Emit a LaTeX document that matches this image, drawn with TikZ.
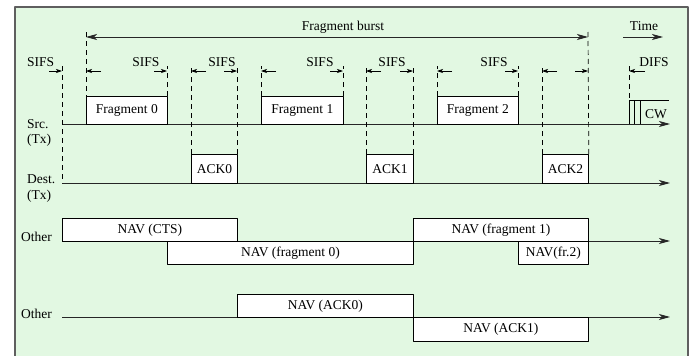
\documentclass[tikz,border=0pt]{standalone}
\usepackage{fontspec}
\setmainfont{Liberation Serif}
\usetikzlibrary{arrows.meta, positioning, calc}

\definecolor{bgmint}{RGB}{226,248,226}
\definecolor{framegray}{RGB}{95,95,95}

\begin{document}
\begin{tikzpicture}[x=1pt, y=-1pt, >={Stealth[length=11pt,width=6pt,inset=3pt]}, line join=round,
	font=\fontsize{13.5}{16}\selectfont]
	
	%======================
	% PARAMETERS (edit here)
	%======================
	\def\ySrc{124}     % source time line
	\def\yDst{183}     % destination time line
	\def\yOa{241}      % first other station
	\def\yOb{317}      % second other station
	\def\yTick{71}     % small SIFS arrows
	\def\yTop{66}      % upper end of guides
	\def\xStart{62}
	\def\xEnd{670}
	
	%======================
	% STYLES
	%======================
	\tikzset{
		timeline/.style={line width=0.8pt, black!85},
		slot/.style={draw, line width=0.8pt, fill=white, inner sep=0pt, anchor=north west},
		guide/.style={line width=0.7pt, dash pattern=on 5pt off 4pt},
		tick/.style={line width=0.7pt, -{Stealth[length=6pt,width=4pt,inset=1.5pt]}},
		lbl/.style={inner sep=0pt}
	}
	
	\useasboundingbox (0,0) rectangle (699,356);
	\draw[framegray, line width=1.2pt, fill=bgmint] (15,7) rectangle (688,364);
	
	%======================
	% TIME LINES
	%======================
	\coordinate (src0) at (\xStart,\ySrc);  \coordinate (src1) at (\xEnd,\ySrc);
	\coordinate (dst0) at (\xStart,\yDst);  \coordinate (dst1) at (\xEnd,\yDst);
	\coordinate (oa0) at (\xStart,\yOa);    \coordinate (oa1) at (\xEnd,\yOa);
	\coordinate (ob0) at (\xStart,\yOb);    \coordinate (ob1) at (\xEnd,\yOb);
	\draw[timeline,->] (src0) -- (src1);
	\draw[timeline,->] (dst0) -- (dst1);
	\draw[timeline,->] (oa0) -- (oa1);
	\draw[timeline,->] (ob0) -- (ob1);
	
	% row labels
	\node[lbl, anchor=base west] (sifsL) at (27,66) {SIFS};
	\node[lbl, anchor=base west] (srcL) at (27,128) {Src.};
	\node[lbl, anchor=base west] (srcT) at (27,143) {(Tx)};
	\node[lbl, anchor=base west] (dstL) at (27,183) {Dest.};
	\node[lbl, anchor=base west] (dstT) at (27,199) {(Tx)};
	\node[lbl, anchor=base west] (otherA) at (21,241) {Other};
	\node[lbl, anchor=base west] (otherB) at (21,318) {Other};
	
	%======================
	% FRAMES ON THE AIR
	%======================
	\node[slot, minimum width=81pt, minimum height=28pt] (frag0) at (86,96) {Fragment 0};
	\node[slot, minimum width=82pt, minimum height=28pt] (frag1) at (261,96) {Fragment 1};
	\node[slot, minimum width=81pt, minimum height=28pt] (frag2) at (437,96) {Fragment 2};
	
	\node[slot, minimum width=46pt, minimum height=29pt] (ack0) at (191,154) {ACK0};
	\node[slot, minimum width=47pt, minimum height=29pt] (ack1) at (366,154) {ACK1};
	\node[slot, minimum width=46pt, minimum height=29pt] (ack2) at (542,154) {ACK2};
	
	% NAV settings of the other stations
	\node[slot, minimum width=175pt, minimum height=23pt] (navcts) at (62,218) {NAV (CTS)};
	\node[slot, minimum width=246pt, minimum height=23pt] (navf0) at (167,241) {NAV (fragment 0)};
	\node[slot, minimum width=175pt, minimum height=23pt] (navf1) at (413,218) {NAV (fragment 1)};
	\node[slot, minimum width=70pt, minimum height=23pt] (navf2) at (518,241) {NAV(fr.2)};
	\node[slot, minimum width=176pt, minimum height=23pt] (navack0) at (237,294) {NAV (ACK0)};
	\node[slot, minimum width=175pt, minimum height=24pt] (navack1) at (413,317) {NAV (ACK1)};
	
	% contention window
	\draw[line width=0.7pt] (629,\ySrc) -- (629,100) -- (669,100);
	\draw[line width=0.7pt] (634,\ySrc) -- (634,100);
	\draw[line width=0.7pt] (640,\ySrc) -- (640,100);
	\node[lbl, anchor=base west] (cw) at (645,118) {CW};
	
	%======================
	% GUIDES
	%======================
	\coordinate (gA) at (62,\yTop);
	\coordinate (gB) at (86,32);
	\coordinate (gM) at (588,32);
	\coordinate (gN) at (629,\yTop);
	\draw[guide] (gA) -- (dst0);
	\draw[guide] (gB) -- (frag0.north west);
	\draw[guide] (frag0.north east) -- ++(0,-30);
	\draw[guide] (ack0.north west) -- ++(0,-88);
	\draw[guide] (ack0.north east) -- ++(0,-88);
	\draw[guide] (frag1.north west) -- ++(0,-30);
	\draw[guide] (frag1.north east) -- ++(0,-30);
	\draw[guide] (ack1.north west) -- ++(0,-88);
	\draw[guide] (ack1.north east) -- ++(0,-88);
	\draw[guide] (frag2.north west) -- ++(0,-30);
	\draw[guide] (frag2.north east) -- ++(0,-30);
	\draw[guide] (ack2.north west) -- ++(0,-88);
	\draw[guide] (gM) -- (ack2.north east);
	\draw[guide] (gN) -- (629,100);
	
	% small arrows pointing at the guides
	\draw[tick] (49,\yTick) -- (62,\yTick);
	\foreach \l/\r in {86/167, 191/237, 261/343, 366/413, 437/518, 542/588}{
		\draw[tick] (\l+15,\yTick) -- (\l,\yTick);
		\draw[tick] (\r-13,\yTick) -- (\r,\yTick);
	}
	\draw[tick] (645,\yTick) -- (629,\yTick);
	
	\node[lbl, anchor=base] (sifs1) at (146,66) {SIFS};
	\node[lbl, anchor=base] (sifs2) at (222,66) {SIFS};
	\node[lbl, anchor=base] (sifs3) at (320,66) {SIFS};
	\node[lbl, anchor=base] (sifs4) at (392,66) {SIFS};
	\node[lbl, anchor=base] (sifs5) at (494,66) {SIFS};
	\node[lbl, anchor=base] (difs) at (654,66) {DIFS};
	
	%======================
	% BURST AND TIME
	%======================
	\draw[timeline,<->] (gB |- 0,37) coordinate (burstL) -- (gM |- 0,37) coordinate (burstR);
	\node[lbl, anchor=base] (burst) at (343,30) {Fragment burst};
	\coordinate (time0) at (623,37);
	\coordinate (time1) at (663,37);
	\draw[timeline,->] (time0) -- (time1);
	\node[lbl, anchor=base] (time) at (644,30) {Time};
	
\end{tikzpicture}
\end{document}
